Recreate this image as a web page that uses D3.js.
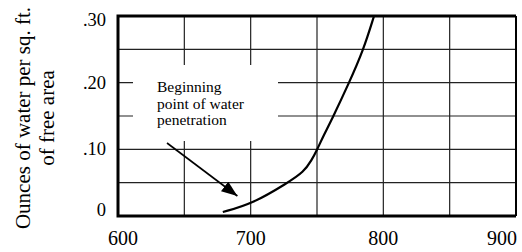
<!DOCTYPE html>
<html>
<head>
<meta charset="utf-8">
<script src="https://cdn.jsdelivr.net/npm/d3@7"></script>
<style>
body { margin: 0; background: #fff; }
svg text { font-family: "Liberation Serif", serif; }
</style>
</head>
<body>
<div class="main"></div>
<script>
// curve
var temps = [679, 701, 728, 740, 746, 750, 755, 761, 774, 785, 793];
var ounces = [0.006, 0.018, 0.050, 0.066, 0.084, 0.099, 0.121, 0.144, 0.199, 0.249, 0.300];
var xTicks = [600, 700, 800, 900];
var xGrid = [650, 700, 750, 800, 850];
var yTicks = [0, 0.10, 0.20, 0.30];
var yTickLabels = ["0", ".10", ".20", ".30"];
var yGrid = [0.05, 0.10, 0.15, 0.20, 0.25];
var note = ["Beginning", "point of water", "penetration"];
var notePoint = [690, 0.03]; // where the arrow points

const width = 522, height = 252;
const pLeft = 118, pRight = 516, pTop = 16, pBottom = 216;
const serif = "Liberation Serif";

var svg = d3.select(".main").append("svg")
    .attr("width", width)
    .attr("height", height);

var x = d3.scaleLinear().domain([600, 900]).range([pLeft, pRight]);
var y = d3.scaleLinear().domain([0, 0.30]).range([pBottom, pTop]);

//grid
svg.selectAll("vgrid")
    .data(xGrid)
    .enter()
    .append("line")
    .attr("x1", d => x(d)).attr("x2", d => x(d))
    .attr("y1", pTop).attr("y2", pBottom)
    .attr("stroke", "#222")
    .attr("stroke-width", 1.2);

svg.selectAll("hgrid")
    .data(yGrid)
    .enter()
    .append("line")
    .attr("x1", pLeft).attr("x2", pRight)
    .attr("y1", d => y(d)).attr("y2", d => y(d))
    .attr("stroke", "#222")
    .attr("stroke-width", 1.2);

//white box for the note
svg.append("rect")
    .attr("x", 133)
    .attr("y", 65)
    .attr("width", 145)
    .attr("height", 76)
    .style("fill", "white");

svg.append("text")
    .attr("x", 157)
    .attr("y", 92)
    .attr("font-family", serif)
    .attr("font-size", 15.5)
    .selectAll("tspan")
    .data(note)
    .enter()
    .append("tspan")
    .attr("x", 157)
    .attr("dy", (d, i) => i == 0 ? 0 : 16.5)
    .text(d => d);

//arrow
svg.append("defs").append("marker")
    .attr("id", "head")
    .attr("viewBox", "0 0 16 12")
    .attr("refX", 16).attr("refY", 6)
    .attr("markerWidth", 16).attr("markerHeight", 12)
    .attr("markerUnits", "userSpaceOnUse")
    .attr("orient", "auto")
    .append("path")
    .attr("d", "M0,0 L16,6 L0,12 Z")
    .style("fill", "black");

svg.append("line")
    .attr("x1", 167).attr("y1", 143)
    .attr("x2", x(notePoint[0])).attr("y2", y(notePoint[1]))
    .attr("stroke", "black")
    .attr("stroke-width", 1.6)
    .attr("marker-end", "url(#head)");

//curve
var pts = temps.map((t, i) => [t, ounces[i]]);
svg.append("path")
    .datum(pts)
    .attr("d", d3.line().x(d => x(d[0])).y(d => y(d[1])).curve(d3.curveBasis))
    .style("fill", "none")
    .style("stroke", "black")
    .style("stroke-width", 2.2);

//frame
svg.append("line").attr("x1", pRight).attr("x2", pRight).attr("y1", pTop).attr("y2", pBottom)
    .attr("stroke", "black").attr("stroke-width", 2);
svg.append("path")
    .attr("d", `M${pRight},${pTop} H${pLeft} V${pBottom} H${pRight}`)
    .style("fill", "none")
    .style("stroke", "black")
    .style("stroke-width", 3);

//x tick labels, kept inside the frame width (about 0.5em per digit)
svg.selectAll("xlab")
    .data(xTicks)
    .enter()
    .append("text")
    .attr("y", 245)
    .attr("font-family", serif)
    .attr("font-size", 20)
    .attr("text-anchor", "middle")
    .text(d => d)
    .attr("x", function(d) {
        var w = String(d).length * 10;
        var cx = x(d);
        cx = Math.max(cx, 108 + w / 2);
        cx = Math.min(cx, 517 - w / 2);
        return cx;
    });

//y tick labels, kept inside the frame height
svg.selectAll("ylab")
    .data(yTicks)
    .enter()
    .append("text")
    .attr("x", 106)
    .attr("text-anchor", "end")
    .attr("font-family", serif)
    .attr("font-size", 18.5)
    .text((d, i) => yTickLabels[i])
    .attr("y", function(d) {
        var cy = y(d);
        cy = Math.max(cy, 20);
        cy = Math.min(cy, 210);
        return cy + 6;
    });

//y axis title
var title = svg.append("text")
    .attr("transform", "translate(30,118) rotate(-90)")
    .attr("text-anchor", "middle")
    .attr("font-family", serif)
    .attr("font-size", 21);
title.append("tspan").attr("x", 0).attr("dy", 0).text("Ounces of water per sq. ft.");
title.append("tspan").attr("x", 0).attr("dy", 24).text("of free area");
</script>
</body>
</html>
